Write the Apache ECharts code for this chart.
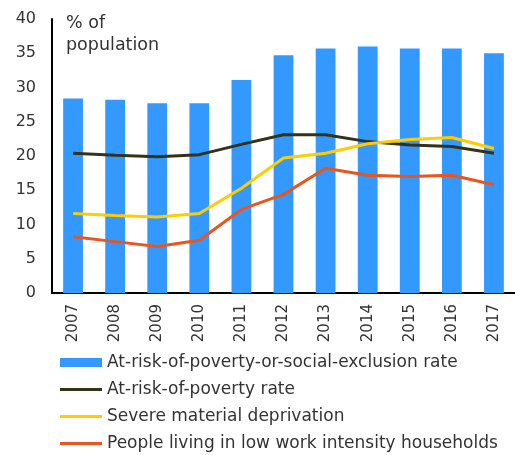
<!DOCTYPE html>
<html>
<head>
<meta charset="utf-8">
<script src="https://cdn.jsdelivr.net/npm/echarts@6/dist/echarts.min.js"></script>
<style>
  html, body { margin: 0; padding: 0; background: #fff; }
  #chart { width: 515px; height: 455px; }
</style>
</head>
<body>
<div id="chart"></div>
<script>
const years = ["2007", "2008", "2009", "2010", "2011", "2012", "2013", "2014", "2015", "2016", "2017"];
// % of population
const socialExclusion = [28.4, 28.2, 27.7, 27.7, 31.1, 34.7, 35.7, 36.0, 35.7, 35.7, 35.0];
const povertyRate = [20.4, 20.1, 19.9, 20.2, 21.7, 23.1, 23.1, 22.1, 21.6, 21.4, 20.4];
const materialDeprivation = [11.6, 11.3, 11.1, 11.6, 15.3, 19.7, 20.4, 21.8, 22.4, 22.7, 21.1];
const lowWorkIntensity = [8.2, 7.5, 6.8, 7.7, 12.2, 14.4, 18.2, 17.2, 17.0, 17.2, 15.8];

const font = "DejaVu Sans";
const textColor = "#333333";
const lineIcon = "path://M0,0L42,0L42,3L0,3Z";

const chart = echarts.init(document.getElementById("chart"));
chart.setOption({
  animation: false,
  textStyle: { fontFamily: font, color: textColor },
  grid: { left: 52, right: 0, top: 19, bottom: 162, containLabel: false },
  legend: {
    orient: "vertical",
    left: 60,
    top: 354,
    padding: 0,
    itemWidth: 42,
    itemHeight: 9,
    itemGap: 10,
    symbolKeepAspect: true,
    textStyle: { fontFamily: font, fontSize: 17, color: textColor },
    data: [
      { name: "At-risk-of-poverty-or-social-exclusion rate", icon: "rect" },
      { name: "At-risk-of-poverty rate", icon: lineIcon },
      { name: "Severe material deprivation", icon: lineIcon },
      { name: "People living in low work intensity households", icon: lineIcon }
    ]
  },
  graphic: [{
    type: "text",
    left: 66,
    top: 12,
    style: {
      text: "% of\npopulation",
      font: "17.5px " + font,
      fill: textColor,
      lineHeight: 22
    }
  }],
  xAxis: {
    type: "category",
    data: years,
    axisLine: { lineStyle: { color: "#000", width: 2 } },
    axisTick: { show: false },
    axisLabel: { rotate: 90, fontSize: 15, color: textColor, margin: 11, interval: 0 }
  },
  yAxis: {
    type: "value",
    min: 0,
    max: 40,
    interval: 5,
    splitLine: { show: false },
    axisLine: { show: true, lineStyle: { color: "#000", width: 2 } },
    axisTick: { show: false },
    axisLabel: { fontSize: 16, color: textColor, margin: 16 }
  },
  series: [
    {
      name: "At-risk-of-poverty-or-social-exclusion rate",
      type: "bar",
      data: socialExclusion,
      barWidth: "47%",
      itemStyle: { color: "#3399ff" }
    },
    {
      name: "At-risk-of-poverty rate",
      type: "line",
      data: povertyRate,
      symbol: "none",
      lineStyle: { color: "#333319", width: 3 },
      itemStyle: { color: "#333319" }
    },
    {
      name: "Severe material deprivation",
      type: "line",
      data: materialDeprivation,
      symbol: "none",
      lineStyle: { color: "#ffcc00", width: 3 },
      itemStyle: { color: "#ffcc00" }
    },
    {
      name: "People living in low work intensity households",
      type: "line",
      data: lowWorkIntensity,
      symbol: "none",
      lineStyle: { color: "#e8561e", width: 3 },
      itemStyle: { color: "#e8561e" }
    }
  ]
});
</script>
</body>
</html>
